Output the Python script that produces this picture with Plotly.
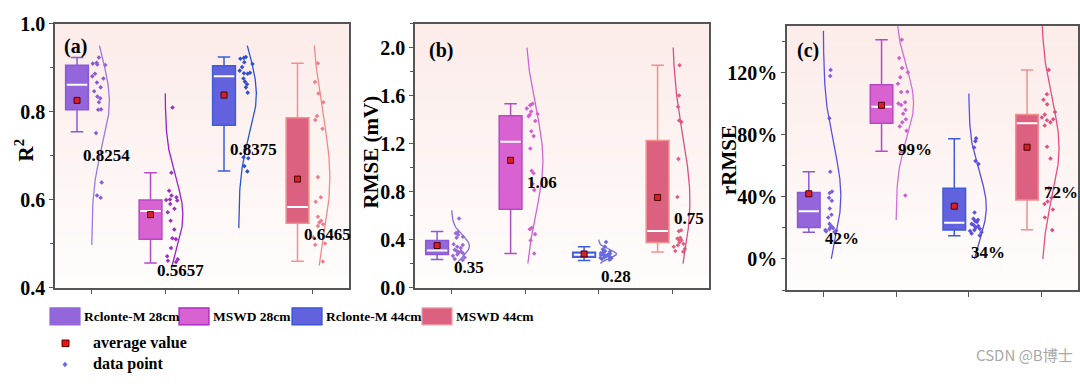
import numpy as np
import plotly.graph_objects as go

# ---------------- data ----------------
groups = ["Rclonte-M 28cm", "MSWD 28cm", "Rclonte-M 44cm", "MSWD 44cm"]

# panel (a) R2
r2_points = [
    [0.923, 0.911, 0.909, 0.907, 0.906, 0.886, 0.880, 0.875, 0.866, 0.855,
     0.846, 0.834, 0.830, 0.821, 0.805, 0.804, 0.751, 0.639, 0.609, 0.604],
    [0.809, 0.661, 0.620, 0.609, 0.605, 0.600, 0.599, 0.598, 0.590, 0.579,
     0.571, 0.552, 0.532, 0.512, 0.510, 0.490, 0.471, 0.464, 0.461, 0.458],
    [0.924, 0.922, 0.920, 0.912, 0.908, 0.901, 0.893, 0.888, 0.887, 0.886,
     0.875, 0.868, 0.862, 0.855, 0.843, 0.714, 0.696, 0.694, 0.676, 0.664],
    [0.910, 0.867, 0.841, 0.821, 0.790, 0.781, 0.761, 0.651, 0.605, 0.595,
     0.561, 0.552, 0.548, 0.544, 0.540, 0.514, 0.500, 0.497, 0.459],
]
r2_mean = [0.8254, 0.5657, 0.8375, 0.6465]
r2_low = [0.754, 0.456, 0.665, 0.460]
r2_q1 = [0.804, 0.510, 0.769, 0.546]
r2_median = [0.861, 0.574, 0.880, 0.583]
r2_q3 = [0.905, 0.599, 0.904, 0.786]
r2_high = [0.923, 0.661, 0.924, 0.910]

# panel (b) RMSE (mV)
rmse_points = [
    [0.576, 0.463, 0.452, 0.440, 0.424, 0.415, 0.361, 0.355, 0.340, 0.330,
     0.314, 0.305, 0.300, 0.293, 0.285, 0.275, 0.264, 0.251, 0.238, 0.230],
    [1.532, 1.520, 1.493, 1.467, 1.446, 1.440, 1.427, 1.388, 1.302, 1.262,
     1.158, 0.974, 0.953, 0.864, 0.812, 0.498, 0.485, 0.445, 0.393, 0.283],
    [0.380, 0.340, 0.318, 0.305, 0.298, 0.293, 0.287, 0.282, 0.278, 0.275,
     0.272, 0.268, 0.264, 0.260, 0.256, 0.252, 0.248, 0.244, 0.238, 0.232],
    [1.852, 1.600, 1.506, 1.392, 1.380, 1.072, 0.754, 0.478, 0.470, 0.414,
     0.408, 0.402, 0.395, 0.378, 0.365, 0.352, 0.340, 0.322, 0.305, 0.298],
]
rmse_mean = [0.35, 1.06, 0.28, 0.75]
rmse_low = [0.233, 0.283, 0.225, 0.296]
rmse_q1 = [0.275, 0.652, 0.252, 0.375]
rmse_median = [0.309, 1.215, 0.273, 0.471]
rmse_q3 = [0.393, 1.432, 0.295, 1.226]
rmse_high = [0.466, 1.532, 0.340, 1.852]

# panel (c) rRMSE (%)
rrmse_points = [
    [121.8, 117.8, 90.6, 56.2, 43.5, 42.5, 39.5, 37.5, 32.5, 28.5,
     26.7, 22.6, 21.0, 20.4, 19.8, 19.2, 18.6, 18.2, 17.8, 17.4],
    [141.2, 129.5, 123.0, 120.2, 117.0, 112.9, 107.7, 107.5, 101.0, 100.2,
     99.2, 96.1, 93.5, 90.0, 88.0, 85.4, 82.6, 69.2, 40.9],
    [77.7, 75.9, 71.8, 63.1, 61.1, 29.9, 25.9, 25.2, 24.5, 23.8,
     22.6, 21.8, 21.2, 20.2, 19.4, 18.6, 18.0, 17.2, 16.4, 15.2],
    [121.8, 106.1, 102.6, 99.6, 94.7, 93.0, 91.1, 90.0, 89.4, 88.0,
     86.0, 72.3, 64.7, 45.5, 39.5, 37.0, 35.4, 31.9, 26.7, 18.6],
]
rrmse_mean = [42, 99, 34, 72]
rrmse_low = [17.2, 69.4, 15.0, 18.8]
rrmse_q1 = [20.2, 87.4, 18.6, 38.0]
rrmse_median = [30.7, 98.1, 23.3, 87.4]
rrmse_q3 = [42.9, 112.3, 45.5, 93.1]
rrmse_high = [56.2, 141.2, 77.5, 121.8]

# ---------------- style ----------------
FONT = "Liberation Serif"
box_fill = ["#9466DB", "#D862D0", "#6262DE", "#DC6080"]
box_line = ["#8A5AD6", "#B848C8", "#3C5CD8", "#F09090"]
frame = "#555555"

panels = [
    dict(pts=r2_points, mean=r2_mean, low=r2_low, q1=r2_q1, med=r2_median, q3=r2_q3, high=r2_high,
         xa="x", ya="y", xdom=[0.0509, 0.3231], ydom=[0.2361, 0.9653], yrange=[0.4, 1.0],
         tickvals=[0.4, 0.6, 0.8, 1.0], ticktext=["0.4", "0.6", "0.8", "1.0"], minor=0.1,
         clip=(0.45, 0.95), fmt="{:.4f}", lab_dx=-0.14, lab_y=[0.70, 0.439, 0.714, 0.521],
         dots=["#8A5AD8", "#9A30C0", "#3050D0", "#F07C8C"],
         curves=["#9A7AE0", "#9A20C8", "#2A55D0", "#F08A8A"]),
    dict(pts=rmse_points, mean=rmse_mean, low=rmse_low, q1=rmse_q1, med=rmse_median, q3=rmse_q3, high=rmse_high,
         xa="x2", ya="y2", xdom=[0.3843, 0.6565], ydom=[0.2361, 0.9653], yrange=[0.0, 2.2],
         tickvals=[0.0, 0.4, 0.8, 1.2, 1.6, 2.0],
         ticktext=["0.0", "0.4", "0.8", "1.2", "1.6", "2.0"], minor=0.2,
         clip=(0.2, 2.0), fmt="{:.2f}", lab_dx=0.0, lab_y=[0.168, 0.875, 0.09, 0.576],
         dots=["#9A6AD8", "#D060D0", "#6A6AE0", "#E06080"],
         curves=["#8A6AD8", "#D064D4", "#6A6AD8", "#D85080"]),
    dict(pts=rrmse_points, mean=rrmse_mean, low=rrmse_low, q1=rrmse_q1, med=rrmse_median, q3=rrmse_q3, high=rrmse_high,
         xa="x3", ya="y3", xdom=[0.7287, 0.9981], ydom=[0.2292, 0.9583], yrange=[-20, 150],
         tickvals=[0, 40, 80, 120], ticktext=["0%", "40%", "80%", "120%"], minor=20,
         clip=(0, 150), fmt="{:.0f}%", lab_dx=0.0, lab_y=[13, 70.8, 4.4, 42.9],
         dots=["#7A60E0", "#C860D0", "#5A50E0", "#E05080"],
         curves=["#5A50E0", "#D070D8", "#5A50E0", "#E05080"]),
]

BOX_OFF = -0.2
BOX_W = 0.31
DOT_OFF = 0.1
DOT_W = 0.2
CURVE_AMP = 0.24

fig = go.Figure()
annotations = []
shapes = []

for p in panels:
    xa, ya = p["xa"], p["ya"]
    # gradient background
    nb = 30
    top = np.array([252, 236, 234])
    bot = np.array([255, 253, 252])
    for k in range(nb):
        t = k / (nb - 1)
        c = top * (1 - t) + bot * t
        shapes.append(dict(type="rect", xref=f"{xa} domain", yref=f"{ya} domain",
                           x0=0, x1=1, y0=1 - (k + 1) / nb, y1=1 - k / nb + 0.002,
                           fillcolor=f"rgb({int(c[0])},{int(c[1])},{int(c[2])})",
                           line=dict(width=0), layer="below"))
    for i in range(4):
        pos = i + BOX_OFF
        # box with pre-computed statistics
        fig.add_trace(go.Box(x=[pos], q1=[p["q1"][i]], median=[p["med"][i]], q3=[p["q3"][i]],
                             lowerfence=[p["low"][i]], upperfence=[p["high"][i]],
                             width=BOX_W, whiskerwidth=0.55, fillcolor=box_fill[i],
                             line=dict(color=box_line[i], width=1.5), boxpoints=False,
                             orientation="v", xaxis=xa, yaxis=ya, showlegend=False,
                             name=groups[i]))
        # white median line
        m = p["med"][i]
        fig.add_trace(go.Box(x=[pos], q1=[m], median=[m], q3=[m], lowerfence=[m], upperfence=[m],
                             width=BOX_W - 0.03, whiskerwidth=0, fillcolor="rgba(0,0,0,0)",
                             line=dict(color="white", width=2), boxpoints=False,
                             orientation="v", xaxis=xa, yaxis=ya, showlegend=False,
                             hoverinfo="skip"))
        # jittered data points
        pts = p["pts"][i]
        fig.add_trace(go.Box(x=[i + DOT_OFF] * len(pts), y=pts, boxpoints="all", jitter=1.0,
                             pointpos=0, width=DOT_W, fillcolor="rgba(0,0,0,0)",
                             line=dict(width=0, color="rgba(0,0,0,0)"),
                             marker=dict(symbol="diamond", size=3.5, color=p["dots"][i]),
                             xaxis=xa, yaxis=ya, showlegend=False, name=groups[i]))
        # half normal curve fitted to the data points
        arr = np.array(pts)
        mu, sd = arr.mean(), arr.std(ddof=1)
        y0 = max(p["clip"][0], mu - 3.3 * sd)
        y1 = min(p["clip"][1], mu + 3.3 * sd)
        ys = np.linspace(y0, y1, 150)
        xs = i + CURVE_AMP * np.exp(-0.5 * ((ys - mu) / sd) ** 2)
        fig.add_trace(go.Scatter(x=xs, y=ys, mode="lines",
                                 line=dict(color=p["curves"][i], width=1.3),
                                 xaxis=xa, yaxis=ya, showlegend=False, hoverinfo="skip"))
        # mean label
        annotations.append(dict(x=i + p["lab_dx"], y=p["lab_y"][i], xref=xa, yref=ya,
                                text=p["fmt"].format(p["mean"][i]), showarrow=False,
                                xanchor="left", yanchor="middle",
                                font=dict(family=FONT, size=17, color="black", weight="bold")))
    # mean markers
    fig.add_trace(go.Scatter(x=[i + BOX_OFF for i in range(4)], y=p["mean"], mode="markers",
                             marker=dict(symbol="square", size=6, color="#D8202C",
                                         line=dict(color="#4A0000", width=1)),
                             xaxis=xa, yaxis=ya, showlegend=False))

axis_common = dict(showgrid=False, zeroline=False, showline=True, mirror=True,
                   linecolor=frame, linewidth=1.5, ticks="outside", tickcolor=frame,
                   ticklen=4, tickwidth=1.2)
layout = dict(width=1080, height=384, margin=dict(l=0, r=0, t=0, b=0),
              paper_bgcolor="white", plot_bgcolor="white", showlegend=False)
for k, p in enumerate(panels):
    sfx = "" if k == 0 else str(k + 1)
    layout["xaxis" + sfx] = dict(axis_common, domain=p["xdom"], range=[-0.5, 3.5], ticklen=5,
                                 tickvals=[0, 1, 2, 3], showticklabels=False, anchor=p["ya"])
    layout["yaxis" + sfx] = dict(axis_common, domain=p["ydom"], range=p["yrange"],
                                 tickvals=p["tickvals"], ticktext=p["ticktext"], anchor=p["xa"],
                                 tickfont=dict(family=FONT, size=20, color="black", weight="bold"),
                                 minor=dict(dtick=p["minor"], tick0=0, ticks="outside", ticklen=3,
                                            tickcolor=frame))
fig.update_layout(**layout)

# axis titles and panel letters
title_font = dict(family=FONT, size=21, color="black", weight="bold")
for txt, x, y in [("R<sup>2</sup>", 25, 148), ("RMSE (mV)", 371, 150), ("rRMSE", 729, 158)]:
    annotations.append(dict(x=x / 1080, y=1 - y / 384, xref="paper", yref="paper", text=txt,
                            textangle=-90, showarrow=False, xanchor="center", yanchor="middle",
                            font=title_font))
for txt, x, y in [("(a)", 62, 38), ("(b)", 427, 42), ("(c)", 795, 42)]:
    annotations.append(dict(x=x / 1080, y=1 - y / 384, xref="paper", yref="paper", text=txt,
                            showarrow=False, xanchor="left", yanchor="middle",
                            font=dict(family=FONT, size=20, color="black", weight="bold")))

# legend (drawn in paper space)
leg_font = dict(family=FONT, size=13.5, color="black", weight="bold")
sw_x = [50, 179, 292, 422]
sw_border = ["#9466DB", "#A020C0", "#3050D0", "#F0A0A8"]
for i in range(4):
    x0 = sw_x[i]
    shapes.append(dict(type="rect", xref="paper", yref="paper",
                       x0=x0 / 1080, x1=(x0 + 30) / 1080, y0=1 - 333 / 384, y1=1 - 315 / 384,
                       fillcolor=box_fill[i], line=dict(color=sw_border[i], width=1.2)))
    annotations.append(dict(x=(x0 + 32) / 1080, y=1 - 324 / 384, xref="paper", yref="paper",
                            text=groups[i], showarrow=False, xanchor="left", yanchor="middle",
                            font=leg_font))
shapes.append(dict(type="rect", xref="paper", yref="paper",
                   x0=62 / 1080, x1=69 / 1080, y0=1 - 356 / 384, y1=1 - 349 / 384,
                   fillcolor="#EE1111", line=dict(color="#5A0000", width=1)))
cx, cy = 65, 375
shapes.append(dict(type="path", xref="paper", yref="paper",
                   path=f"M {cx/1080},{1-(cy-3)/384} L {(cx+2.5)/1080},{1-cy/384} "
                        f"L {cx/1080},{1-(cy+3)/384} L {(cx-2.5)/1080},{1-cy/384} Z",
                   fillcolor="#6A6AE0", line=dict(width=0)))
for txt, y in [("average value", 352), ("data point", 374)]:
    annotations.append(dict(x=91 / 1080, y=1 - y / 384, xref="paper", yref="paper",
                            text=txt, align="left", width=130,
                            showarrow=False, xanchor="left", yanchor="middle",
                            font=dict(family=FONT, size=16, color="black", weight="bold")))

annotations.append(dict(x=1075 / 1080, y=1 - 364 / 384, xref="paper", yref="paper",
                        text="CSDN @B博士", showarrow=False, xanchor="right", yanchor="middle",
                        font=dict(family="Noto Sans CJK SC", size=15, color="#A8A8A8")))

fig.update_layout(annotations=annotations, shapes=shapes)
fig.write_html("out.html", config={"displayModeBar": False},
               post_script="document.body.style.margin='0px';")
